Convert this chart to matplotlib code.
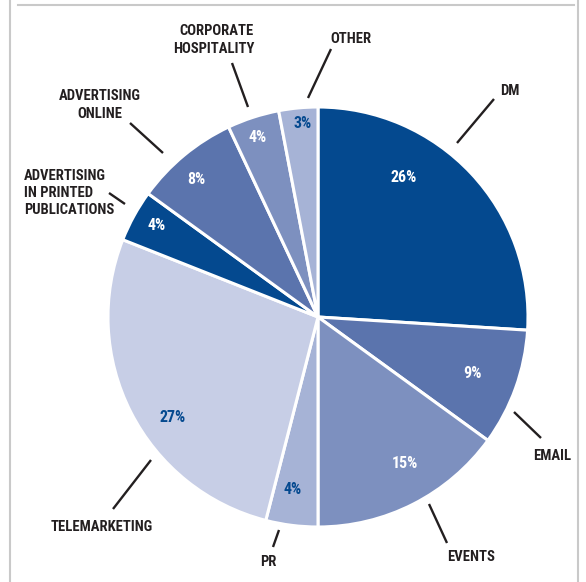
import matplotlib
matplotlib.use("Agg")
import matplotlib.pyplot as plt
from matplotlib.lines import Line2D

W, H = 586, 582

# marketing budget split, clockwise from 12 o'clock
channels = ["DM", "EMAIL", "EVENTS", "PR", "TELEMARKETING",
            "ADVERTISING\nIN PRINTED\nPUBLICATIONS", "ADVERTISING\nONLINE",
            "CORPORATE\nHOSPITALITY", "OTHER"]
shares = [26, 9, 15, 4, 27, 4, 8, 4, 3]

DARK = "#04498f"
MID = "#5b74ad"
SOFT = "#7d90bf"
LIGHT = "#a6b3d6"
PALE = "#c7cee6"
colors = [DARK, MID, SOFT, LIGHT, PALE, DARK, MID, SOFT, LIGHT]
pct_colors = ["white", "white", "white", DARK, DARK, "white", "white", "white", DARK]

# layout in pixel coords (y down): percent text, leader line, label anchor
pct_pos = [(404, 178), (473, 373), (405, 464), (293, 489), (173, 418),
           (157, 225), (196, 180), (258, 137), (303, 123)]
leaders = [((457, 143), (494, 99)), ((514, 412), (541, 438)),
           ((429, 504), (447, 543)), ((279, 530), (273, 547)),
           ((151, 460), (113, 509)), ((109, 193), (125, 204)),
           ((130, 123), (163, 153)), ((232, 63), (248, 107)),
           ((308, 98), (331, 49))]
label_pos = [(510, 91, "center"), (552, 456, "center"), (471, 557, "center"),
             (268, 562, "center"), (102, 527, "center"), (24, 193, "left"),
             (100, 105, "center"), (254, 40, "right"), (351, 39, "center")]

CENTER = (318, 317)
RADIUS = 210

FONT = ["Roboto Condensed", "Liberation Sans Narrow", "Roboto", "DejaVu Sans"]
INK = "#231f20"


def flip(y):
    return H - y


fig = plt.figure(figsize=(W / 100, H / 100), dpi=100)
fig.patch.set_facecolor("white")
ax = fig.add_axes([0, 0, 1, 1])

ax.pie(shares, colors=colors, startangle=90, counterclock=False,
       center=(CENTER[0], flip(CENTER[1])), radius=RADIUS,
       wedgeprops=dict(edgecolor="white", linewidth=2.2))

for value, (x, y), c in zip(shares, pct_pos, pct_colors):
    ax.text(x, flip(y), f"{value}%", color=c, fontsize=11.5, fontweight="bold",
            family=FONT, ha="center", va="center")

for (p0, p1) in leaders:
    ax.add_line(Line2D([p0[0], p1[0]], [flip(p0[1]), flip(p1[1])],
                       color=INK, linewidth=1.7, solid_capstyle="butt"))

for name, (x, y, ha) in zip(channels, label_pos):
    ax.text(x, flip(y), name, color=INK, fontsize=10.5, fontweight="bold",
            family=FONT, ha=ha, va="center", multialignment=ha,
            linespacing=1.3)

# grey panel frame
frame = "#c9c9c9"
ax.add_line(Line2D([10, 10], [0, H], color=frame, linewidth=1.5))
ax.add_line(Line2D([18, 574], [flip(5), flip(5)], color=frame, linewidth=1.5))
ax.add_line(Line2D([578, 578], [0, H], color=frame, linewidth=1.5))

ax.set_xlim(0, W)
ax.set_ylim(0, H)
ax.set_aspect("equal")
ax.axis("off")

fig.savefig("out.png", dpi=100, facecolor="white")
